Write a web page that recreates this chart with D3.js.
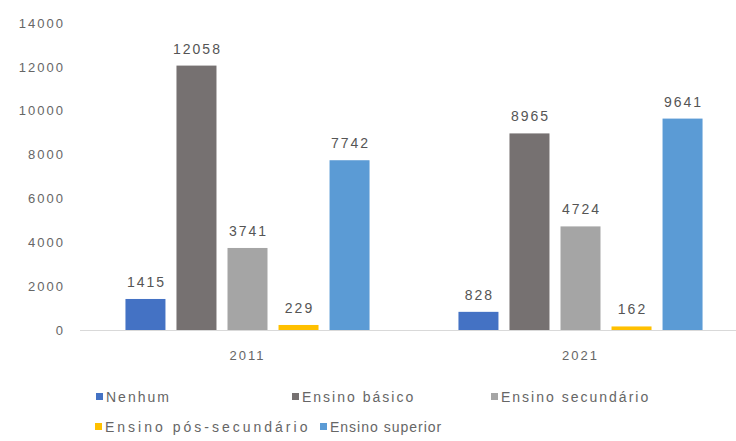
<!DOCTYPE html>
<html>
<head>
<meta charset="utf-8">
<script src="https://cdn.jsdelivr.net/npm/d3@7"></script>
<style>
  html, body { margin: 0; padding: 0; background: #fff; }
  svg { display: block; font-family: "Liberation Sans", Arial, sans-serif; }
</style>
</head>
<body>
<svg id="chart" width="736" height="441"></svg>
<script>
const years = ["2011", "2021"];
const seriesNames = ["Nenhum", "Ensino básico", "Ensino secundário", "Ensino pós-secundário", "Ensino superior"];
const nenhum = [1415, 828];
const basico = [12058, 8965];
const secundario = [3741, 4724];
const posSecundario = [229, 162];
const superior = [7742, 9641];
const yTicks = [0, 2000, 4000, 6000, 8000, 10000, 12000, 14000];
const colors = ["#4472C4", "#767171", "#A5A5A5", "#FFC000", "#5B9BD5"];

const seriesValues = [nenhum, basico, secundario, posSecundario, superior];
const svg = d3.select("#chart");

const y = d3.scaleLinear().domain([0, 14000]).range([330, 23]);
const x0 = d3.scaleBand().domain(years).range([81, 747]).paddingInner(0.267).paddingOuter(0.1335);
const x1 = d3.scaleBand().domain(seriesNames).range([0, x0.bandwidth()]).paddingInner(0.216).paddingOuter(0);

// y axis labels
const yAxis = d3.axisLeft(y).tickValues(yTicks).tickSize(0).tickPadding(0).tickFormat(d3.format("d"));
const gy = svg.append("g").attr("transform", "translate(65,0)").call(yAxis);
gy.select(".domain").remove();
gy.selectAll("text").attr("fill", "#666").style("font-size", "13px").style("letter-spacing", "2px")
  .attr("font-family", "Liberation Sans, Arial, sans-serif");

// bars
const groups = svg.append("g").selectAll("g").data(years).join("g")
  .attr("transform", d => `translate(${x0(d)},0)`);

groups.each(function(yr, yi) {
  const g = d3.select(this);
  const data = seriesNames.map((s, si) => ({ s, v: seriesValues[si][yi], c: colors[si] }));
  g.selectAll("rect").data(data).join("rect")
    .attr("x", d => x1(d.s))
    .attr("width", x1.bandwidth())
    .attr("y", d => y(d.v))
    .attr("height", d => y(0) - y(d.v))
    .attr("fill", d => d.c);
  g.selectAll("text").data(data).join("text")
    .attr("x", d => x1(d.s) + x1.bandwidth() / 2 + 1)
    .attr("y", d => y(d.v) - 12)
    .attr("text-anchor", "middle")
    .attr("fill", "#555")
    .style("font-size", "14px")
    .style("letter-spacing", "2px")
    .text(d => d.v);
});

// x axis
const xAxis = d3.axisBottom(x0).tickSize(0).tickPadding(0);
const gx = svg.append("g").attr("transform", "translate(0,330)").call(xAxis);
gx.select(".domain").attr("stroke", "#d9d9d9").attr("d", "M80,0.5H736");
gx.selectAll("text").attr("fill", "#666").attr("dy", "0").attr("y", 30)
  .style("font-size", "13px").style("letter-spacing", "2px")
  .attr("font-family", "Liberation Sans, Arial, sans-serif");

// legend
const legendPos = [[96, 397], [292, 397], [491, 397], [95, 427], [320, 427]];
const legendSpacing = [2, 2, 2, 3, 1];
const leg = svg.append("g").selectAll("g").data(seriesNames).join("g")
  .attr("transform", (d, i) => `translate(${legendPos[i][0]},${legendPos[i][1]})`);
leg.append("rect").attr("x", 0).attr("y", -4).attr("width", 7).attr("height", 7)
  .attr("fill", (d, i) => colors[i]);
leg.append("text").attr("x", 10).attr("y", 0).attr("dy", "0.35em")
  .attr("fill", "#666").style("font-size", "14px")
  .style("letter-spacing", (d, i) => legendSpacing[i] + "px")
  .text(d => d);
</script>
</body>
</html>
